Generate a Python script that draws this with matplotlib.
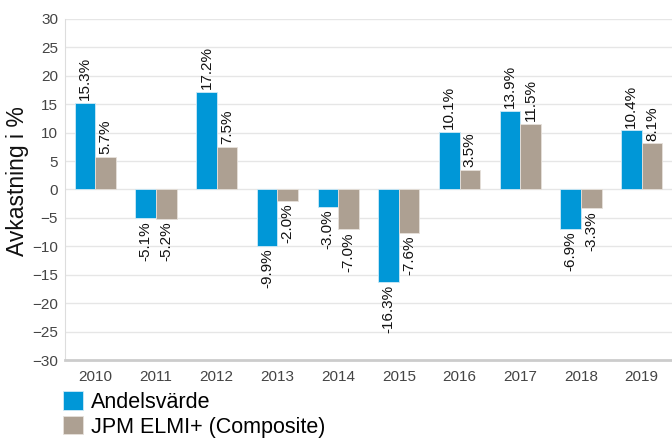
import matplotlib.pyplot as plt
import numpy as np

plt.rcParams['font.family'] = ['Liberation Sans', 'DejaVu Sans']

years = ['2010', '2011', '2012', '2013', '2014', '2015', '2016', '2017', '2018', '2019']
andelsvarde = [15.3, -5.1, 17.2, -9.9, -3.0, -16.3, 10.1, 13.9, -6.9, 10.4]
jpm_elmi = [5.7, -5.2, 7.5, -2.0, -7.0, -7.6, 3.5, 11.5, -3.3, 8.1]
series_names = ['Andelsvärde', 'JPM ELMI+ (Composite)']

blue = '#0097d7'
brown = '#ada092'

fig = plt.figure(figsize=(6.72, 4.38), dpi=100)
ax = fig.add_axes([65 / 672, 1 - 360 / 438, 607 / 672, 341 / 438])

x = np.arange(len(years))
w = 0.34
b1 = ax.bar(x - w / 2, andelsvarde, w, color=blue, edgecolor='#cfeaf6', linewidth=0.6, label=series_names[0], zorder=3)
b2 = ax.bar(x + w / 2, jpm_elmi, w, color=brown, edgecolor='#e6e0da', linewidth=0.6, label=series_names[1], zorder=3)

# value labels, rotated, above positive bars and below negative bars
for bars, vals in [(b1, andelsvarde), (b2, jpm_elmi)]:
    for rect, v in zip(bars, vals):
        cx = rect.get_x() + rect.get_width() / 2
        if v >= 0:
            ax.annotate(f'{v:.1f}%', (cx, v), xytext=(0, 2), textcoords='offset points',
                        rotation=90, ha='center', va='bottom', fontsize=11, color='#111111')
        else:
            ax.annotate(f'{v:.1f}%', (cx, v), xytext=(0, -2), textcoords='offset points',
                        rotation=90, ha='center', va='top', fontsize=11, color='#111111')

ax.set_xlim(-0.5, len(years) - 0.5)
ax.set_ylim(-30, 30)
ax.set_yticks(np.arange(-30, 31, 5))
ax.set_xticks(x)
ax.set_xticklabels(years)
ax.tick_params(axis='both', length=0, labelsize=11, colors='#444444')
ax.tick_params(axis='x', pad=7)
ax.tick_params(axis='y', pad=5)
ax.grid(axis='y', color='#e6e6e6', linewidth=1, zorder=0)
ax.set_axisbelow(True)

for s in ['top', 'right']:
    ax.spines[s].set_visible(False)
ax.spines['left'].set_color('#dddddd')
ax.spines['bottom'].set_color('#cccccc')
ax.spines['bottom'].set_linewidth(2)

ax.set_ylabel('Avkastning i %', fontsize=16.5, color='#111111')
ax.yaxis.set_label_coords(-0.06, 0.525)

fig.legend(handles=[b1, b2], loc='upper left', bbox_to_anchor=(63 / 672, 1 - 391 / 438),
           frameon=False, fontsize=15.5, handlelength=0.95, handleheight=0.95,
           handletextpad=0.35, labelspacing=0.15, borderaxespad=0, borderpad=0)

fig.savefig('out.png', dpi=100)
